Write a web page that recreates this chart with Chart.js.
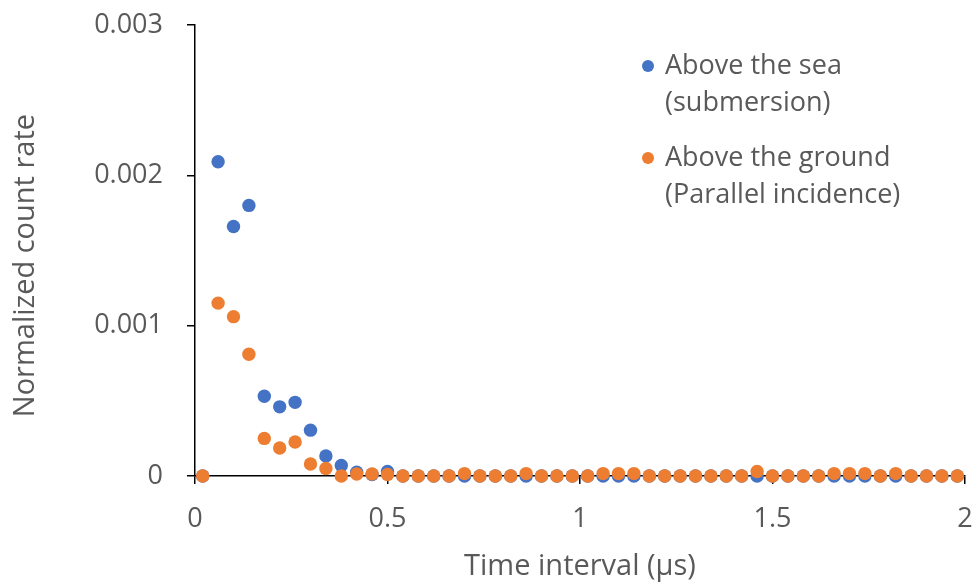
<!DOCTYPE html>
<html lang="en">
<head>
    <meta charset="UTF-8">
    <title>Normalized count rate vs time interval</title>
    <script src="https://cdn.jsdelivr.net/npm/chart.js"></script>
    <style>
        body { margin: 0; background: #ffffff; }
        #chartBox { width: 977px; height: 582px; }
    </style>
</head>
<body>
    <div id="chartBox">
        <canvas id="countChart" width="977" height="582"></canvas>
    </div>

    <script>
        // Time interval (us), bin centres
        const timeInterval = [
            0.02, 0.06, 0.10, 0.14, 0.18, 0.22, 0.26, 0.30, 0.34, 0.38,
            0.42, 0.46, 0.50, 0.54, 0.58, 0.62, 0.66, 0.70, 0.74, 0.78,
            0.82, 0.86, 0.90, 0.94, 0.98, 1.02, 1.06, 1.10, 1.14, 1.18,
            1.22, 1.26, 1.30, 1.34, 1.38, 1.42, 1.46, 1.50, 1.54, 1.58,
            1.62, 1.66, 1.70, 1.74, 1.78, 1.82, 1.86, 1.90, 1.94, 1.98
        ];
        // Above the sea (submersion)
        const seaRate = [
            0, 0.00209, 0.00166, 0.00180, 0.00053, 0.00046, 0.00049, 0.000305, 0.000133, 0.00007,
            0.000025, 0.00001, 0.00003, 0, 0, 0, 0, 0, 0, 0,
            0, 0, 0, 0, 0, 0, 0, 0, 0, 0,
            0, 0, 0, 0, 0, 0, 0, 0, 0, 0,
            0, 0, 0, 0, 0, 0, 0, 0, 0, 0
        ];
        // Above the ground (parallel incidence)
        const groundRate = [
            0, 0.00115, 0.00106, 0.00081, 0.00025, 0.000186, 0.000226, 0.00008, 0.00005, 0,
            0.000013, 0.000013, 0.00001, 0, 0, 0, 0, 0.000016, 0, 0,
            0, 0.000016, 0, 0, 0, 0, 0.000016, 0.000016, 0.000016, 0,
            0, 0, 0, 0, 0, 0, 0.00003, 0, 0, 0,
            0, 0.000016, 0.000016, 0.000016, 0, 0.000016, 0, 0, 0, 0
        ];
        const seriesLabels = [
            ['Above the sea', '(submersion)'],
            ['Above the ground', '(Parallel incidence)']
        ];
        const xTicks = [0, 0.5, 1, 1.5, 2];
        const yTicks = [0, 0.001, 0.002, 0.003];

        const textColor = '#595959';
        const fontFamily = '"Open Sans", "Liberation Sans", sans-serif';

        function toPoints(xs, ys) {
            return xs.map((x, i) => ({ x: x, y: ys[i] }));
        }

        // legend drawn in the plot's upper right, two lines per entry
        const sideLegend = {
            id: 'sideLegend',
            afterDraw(chart) {
                const ctx = chart.ctx;
                const area = chart.chartArea;
                const dotX = area.right - 317;
                const textX = dotX + 17;
                let y = area.top + 41;
                ctx.save();
                ctx.font = '27px ' + fontFamily;
                ctx.textBaseline = 'middle';
                ctx.textAlign = 'left';
                chart.data.datasets.forEach(ds => {
                    ctx.fillStyle = ds.backgroundColor;
                    ctx.beginPath();
                    ctx.arc(dotX, y, 6, 0, Math.PI * 2);
                    ctx.fill();
                    ctx.fillStyle = textColor;
                    ds.label.forEach((line, j) => {
                        ctx.fillText(line, textX, y + j * 37);
                    });
                    y += 92;
                });
                ctx.restore();
            }
        };

        const ctx = document.getElementById('countChart').getContext('2d');
        const countChart = new Chart(ctx, {
            type: 'scatter',
            data: {
                datasets: [{
                    label: seriesLabels[0],
                    data: toPoints(timeInterval, seaRate),
                    backgroundColor: '#4472C4',
                    borderWidth: 0,
                    pointRadius: 6.7,
                    order: 1,
                    clip: false
                }, {
                    label: seriesLabels[1],
                    data: toPoints(timeInterval, groundRate),
                    backgroundColor: '#ED7D31',
                    borderWidth: 0,
                    pointRadius: 6.7,
                    order: 0,
                    clip: false
                }]
            },
            options: {
                responsive: false,
                animation: false,
                layout: {
                    padding: { top: 25, right: 12, left: 0, bottom: 0 }
                },
                plugins: {
                    legend: { display: false },
                    tooltip: { enabled: false }
                },
                scales: {
                    x: {
                        type: 'linear',
                        min: 0,
                        max: 2,
                        afterFit(scale) {
                            scale.height = 106;
                            scale.paddingLeft = 0;
                            scale.paddingRight = 0;
                        },
                        afterBuildTicks(scale) {
                            scale.ticks = xTicks.map(v => ({ value: v }));
                        },
                        border: { display: true, color: '#000000', width: 1.5 },
                        grid: {
                            drawOnChartArea: false,
                            drawTicks: true,
                            tickLength: 8,
                            color: '#000000',
                            lineWidth: 1.5
                        },
                        ticks: {
                            padding: 19,
                            color: textColor,
                            font: { family: fontFamily, size: 27 },
                            callback: function(value) {
                                return String(value);
                            }
                        },
                        title: {
                            display: true,
                            text: 'Time interval (\u03bcs)',
                            color: textColor,
                            padding: { top: 0, bottom: 0 },
                            font: { family: fontFamily, size: 29, lineHeight: 1.05 }
                        }
                    },
                    y: {
                        type: 'linear',
                        min: 0,
                        max: 0.003,
                        afterFit(scale) {
                            scale.width = 195;
                            scale.paddingTop = 0;
                            scale.paddingBottom = 0;
                        },
                        afterBuildTicks(scale) {
                            scale.ticks = yTicks.map(v => ({ value: v }));
                        },
                        border: { display: true, color: '#000000', width: 1.5 },
                        grid: {
                            drawOnChartArea: false,
                            drawTicks: true,
                            tickLength: 8,
                            color: '#000000',
                            lineWidth: 1.5
                        },
                        ticks: {
                            padding: 24,
                            color: textColor,
                            font: { family: fontFamily, size: 27 },
                            callback: function(value) {
                                return value === 0 ? '0' : value.toFixed(3);
                            }
                        },
                        title: {
                            display: true,
                            text: 'Normalized count rate    ',
                            color: textColor,
                            padding: { top: 8, bottom: 0 },
                            font: { family: fontFamily, size: 29 }
                        }
                    }
                }
            },
            plugins: [sideLegend]
        });
    </script>
</body>
</html>
